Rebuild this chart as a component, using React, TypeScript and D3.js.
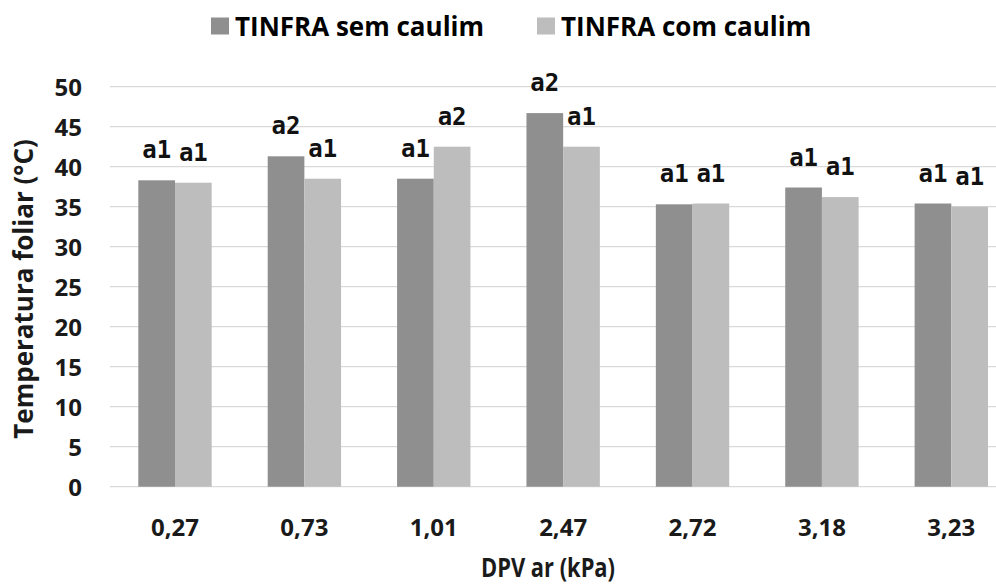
import React from 'react';
import * as d3 from 'd3';

const categories = ['0,27', '0,73', '1,01', '2,47', '2,72', '3,18', '3,23'];
const semCaulim = [38.3, 41.3, 38.5, 46.7, 35.3, 37.4, 35.4];
const comCaulim = [38.0, 38.5, 42.5, 42.5, 35.4, 36.2, 35.0];
const semLetters = ['a1', 'a2', 'a1', 'a2', 'a1', 'a1', 'a1'];
const comLetters = ['a1', 'a1', 'a2', 'a1', 'a1', 'a1', 'a1'];
const yTicks = [0, 5, 10, 15, 20, 25, 30, 35, 40, 45, 50];
const seriesNames = ['TINFRA sem caulim', 'TINFRA com caulim'];
const seriesColors = ['#8f8f8f', '#bdbdbd'];

const W = 996;
const H = 586;
const FONT = '"Open Sans", "DejaVu Sans", sans-serif';

export default function App() {
  const x0 = d3.scaleBand<string>()
    .domain(categories)
    .range([110.3, 1016])
    .paddingInner(0.433)
    .paddingOuter(0.2165);
  const x1 = d3.scaleBand<string>()
    .domain(seriesNames)
    .range([0, x0.bandwidth()]);
  const y = d3.scaleLinear().domain([0, 50]).range([486.7, 86.7]);

  const series = [
    { name: seriesNames[0], values: semCaulim, letters: semLetters, color: seriesColors[0] },
    { name: seriesNames[1], values: comCaulim, letters: comLetters, color: seriesColors[1] },
  ];

  const legendPos = [211, 537];

  return (
    <svg width={W} height={H} style={{ position: 'absolute', left: 0, top: 0, background: '#fff' }}>
      {/* legend */}
      {series.map((s, i) => (
        <g key={s.name}>
          <rect x={legendPos[i]} y={17.5} width={18} height={17} fill={s.color} />
          <text x={legendPos[i] + 24} y={36} fontFamily={FONT} fontWeight="bold" fontSize={26} fill="#000">
            {s.name}
          </text>
        </g>
      ))}

      {/* gridlines + y ticks */}
      {yTicks.map(t => (
        <g key={t}>
          <line x1={110} x2={W} y1={y(t)} y2={y(t)} stroke="#d9d9d9" strokeWidth={1.3} />
          <text x={82} y={y(t)} textAnchor="end" dominantBaseline="central"
            fontFamily={FONT} fontWeight="bold" fontSize={24} fill="#1a1a1a">{t}</text>
        </g>
      ))}

      {/* bars */}
      {series.map(s => (
        <g key={s.name}>
          {categories.map((c, i) => {
            const bx = (x0(c) || 0) + (x1(s.name) || 0);
            return (
              <g key={c}>
                <rect x={bx} y={y(s.values[i])} width={x1.bandwidth()} height={y(0) - y(s.values[i])} fill={s.color} />
                <text x={bx + x1.bandwidth() / 2} y={y(s.values[i]) - 22} textAnchor="middle"
                  fontFamily='"DejaVu Sans Mono", monospace' fontWeight="bold" fontSize={24} fill="#111">
                  {s.letters[i]}
                </text>
              </g>
            );
          })}
        </g>
      ))}

      {/* x tick labels */}
      {categories.map(c => (
        <text key={c} x={(x0(c) || 0) + x0.bandwidth() / 2} y={536} textAnchor="middle"
          fontFamily={FONT} fontWeight="bold" fontSize={24} fill="#1a1a1a">{c}</text>
      ))}

      {/* axis titles */}
      <text x={548} y={577} textAnchor="middle" fontFamily={FONT} fontWeight="bold" fontSize={27}
        textLength={134} lengthAdjust="spacingAndGlyphs" fill="#1a1a1a">
        DPV ar (kPa)
      </text>
      <text transform="translate(23,289) rotate(-90)" textAnchor="middle" dominantBaseline="central"
        fontFamily={FONT} fontWeight="bold" fontSize={26} fill="#1a1a1a">
        Temperatura foliar (°C)
      </text>
    </svg>
  );
}
